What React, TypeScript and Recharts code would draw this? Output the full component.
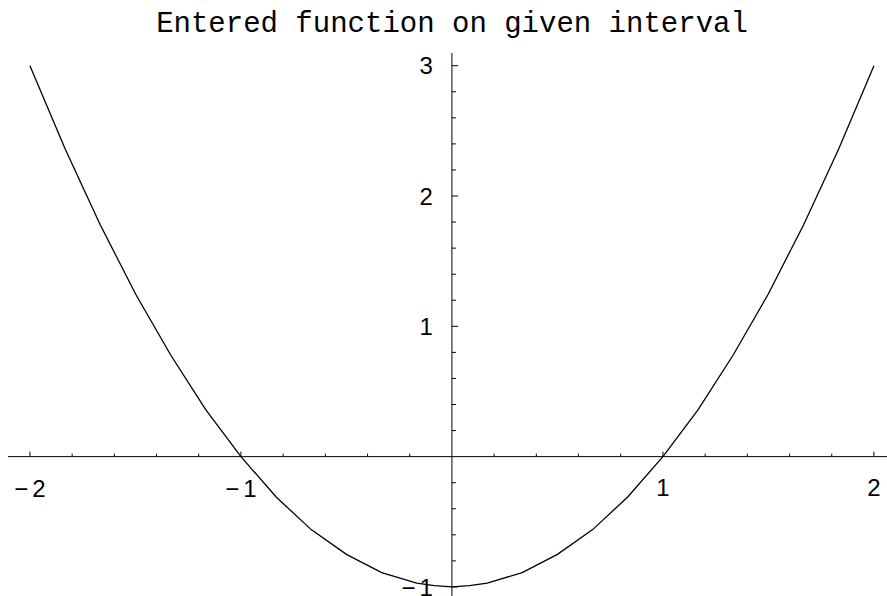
import React from "react";
import { LineChart, Line, XAxis, YAxis, ReferenceLine, ReferenceDot } from "recharts";

// sample points
const xs = [-2, -1.833, -1.667, -1.5, -1.333, -1.167, -1, -0.833, -0.667, -0.5, -0.333, -0.167, -0.083, 0,
  0.083, 0.167, 0.333, 0.5, 0.667, 0.833, 1, 1.167, 1.333, 1.5, 1.667, 1.833, 2];
const ys = [3, 2.36, 1.78, 1.25, 0.78, 0.36, 0, -0.31, -0.56, -0.75, -0.89, -0.97, -0.99, -1,
  -0.99, -0.97, -0.89, -0.75, -0.56, -0.31, 0, 0.36, 0.78, 1.25, 1.78, 2.36, 3];

const xMajor = [-2, -1, 1, 2];
const yMajor = [-1, 1, 2, 3];
const xMinor = [-1.8, -1.6, -1.4, -1.2, -0.8, -0.6, -0.4, -0.2, 0.2, 0.4, 0.6, 0.8, 1.2, 1.4, 1.6, 1.8];
const yMinor = [-0.8, -0.6, -0.4, -0.2, 0.2, 0.4, 0.6, 0.8, 1.2, 1.4, 1.6, 1.8, 2.2, 2.4, 2.6, 2.8];

const TITLE = "Entered function on given interval";

const data = xs.map((x, i) => ({ x, y: ys[i] }));

const W = 887;
const H = 596;
const labelFont = "'Liberation Sans', Arial, sans-serif";

function numLabel(v: number) {
  if (v < 0) {
    return (
      <>
        <tspan>−</tspan>
        <tspan dx={4}>{String(-v)}</tspan>
      </>
    );
  }
  return String(v);
}

const xTick = (len: number, label?: number) => (p: any) => (
  <g>
    <line x1={p.cx} x2={p.cx} y1={p.cy} y2={p.cy - len} stroke="#000" strokeWidth={1} />
    {label !== undefined && (
      <text x={p.cx} y={p.cy + 31} textAnchor="middle" dominantBaseline="central"
        fontFamily={labelFont} fontSize={24} fill="#000">
        {numLabel(label)}
      </text>
    )}
  </g>
);

const yTick = (len: number, label?: number) => (p: any) => (
  <g>
    <line x1={p.cx} x2={p.cx + len} y1={p.cy} y2={p.cy} stroke="#000" strokeWidth={1} />
    {label !== undefined && (
      <text x={p.cx - 19} y={p.cy} textAnchor="end" dominantBaseline="central"
        fontFamily={labelFont} fontSize={24} fill="#000">
        {numLabel(label)}
      </text>
    )}
  </g>
);

export default function App() {
  return (
    <div style={{ position: "absolute", left: 0, top: 0, width: W, height: H, background: "#fff" }}>
      <LineChart width={W} height={H} data={data} margin={{ top: 53, right: 0, bottom: 0, left: 8 }}>
        <XAxis type="number" dataKey="x" domain={[-2.104, 2.062]} allowDataOverflow hide />
        <YAxis type="number" domain={[-1.0695, 3.0975]} allowDataOverflow hide />
        <ReferenceLine y={0} stroke="#000" strokeWidth={1} />
        <ReferenceLine x={0} stroke="#000" strokeWidth={1} />
        {xMinor.map((v) => (
          <ReferenceDot key={"xm" + v} x={v} y={0} r={0} ifOverflow="visible" shape={xTick(3)} />
        ))}
        {xMajor.map((v) => (
          <ReferenceDot key={"xM" + v} x={v} y={0} r={0} ifOverflow="visible" shape={xTick(5, v)} />
        ))}
        {yMinor.map((v) => (
          <ReferenceDot key={"ym" + v} x={0} y={v} r={0} ifOverflow="visible" shape={yTick(4)} />
        ))}
        {yMajor.map((v) => (
          <ReferenceDot key={"yM" + v} x={0} y={v} r={0} ifOverflow="visible" shape={yTick(6, v)} />
        ))}
        <Line type="linear" dataKey="y" stroke="#000" strokeWidth={1.3} dot={false} isAnimationActive={false} />
      </LineChart>
      <svg width={W} height={H} style={{ position: "absolute", left: 0, top: 0, pointerEvents: "none" }}>
        <text x={452} y={32} textAnchor="middle" fontFamily="'Liberation Mono', 'Courier New', monospace"
          fontSize={29} fill="#000">
          {TITLE}
        </text>
      </svg>
    </div>
  );
}
